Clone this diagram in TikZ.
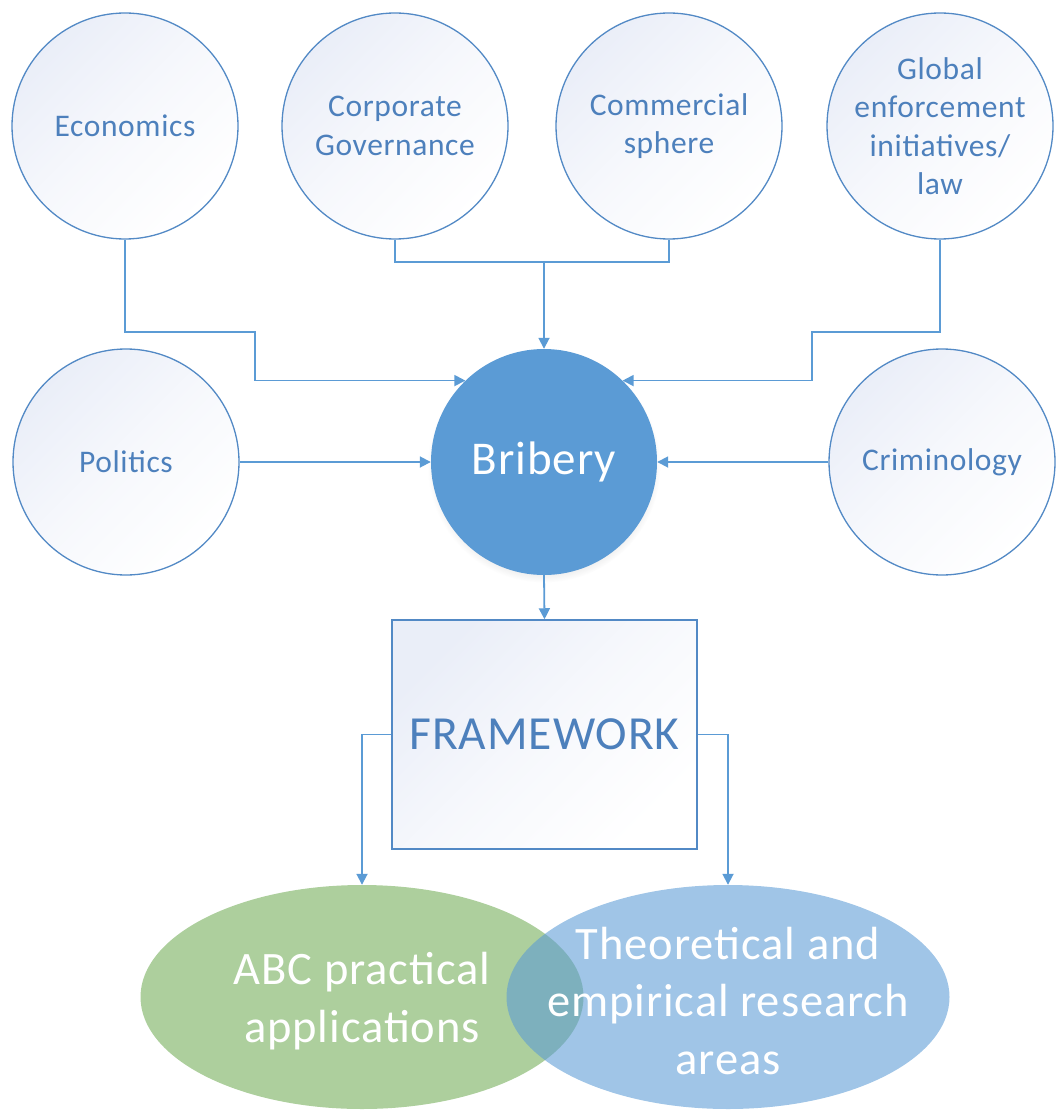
\documentclass[tikz,border=0pt]{standalone}
\usepackage{fontspec}
\setmainfont{Carlito}
\newfontfamily\spaced[LetterSpace=2]{Carlito}
\usetikzlibrary{arrows.meta,shapes.geometric,shadows}
\definecolor{linkblue}{RGB}{91,155,213}
\definecolor{rimblue}{RGB}{82,137,197}
\definecolor{labelblue}{RGB}{77,128,188}
\definecolor{tintblue}{RGB}{234,238,248}
\definecolor{corefill}{RGB}{91,155,213}
\definecolor{leafgreen}{RGB}{173,207,157}
\tikzset{
  soft/.style={top color=tintblue, bottom color=white, middle color=white!60!tintblue, shading angle=45},
  topic/.style={circle, minimum size=226pt, inner sep=0pt, draw=rimblue, line width=1.3pt, soft,
    text=labelblue, align=center, font=\spaced\fontsize{31.5}{38.5}\selectfont},
  core/.style={circle, minimum size=226pt, inner sep=0pt, fill=corefill, draw=none,
    text=white, font=\spaced\fontsize{47}{55}\selectfont,
    circular drop shadow={shadow xshift=0pt, shadow yshift=-4pt, shadow scale=1.03, opacity=0.25}},
  panel/.style={rectangle, minimum width=305pt, minimum height=229pt, inner sep=0pt,
    draw=rimblue, line width=1.5pt, soft,
    text=labelblue, font=\spaced\fontsize{47.5}{56}\selectfont},
  outcome/.style={ellipse, minimum width=443pt, minimum height=224pt, inner sep=0pt,
    draw=none, text=white, align=center, font=\spaced\fontsize{46.5}{57.5}\selectfont},
  wire/.style={draw=linkblue, line width=1.8pt},
  link/.style={wire, -{Triangle[length=11pt,width=11pt]}},
}
\begin{document}
\begin{tikzpicture}[x=1pt, y=-1pt]
\useasboundingbox (0,0) rectangle (1055,1110);

% outer topics
\node[topic] (eco)  at (125,126) {Economics};
\node[topic] (corp) at (395,126) {Corporate\\Governance};
\node[topic] (com)  at (669,126) {Commercial\\sphere};
\node[topic] (glob) at (940,126) {Global\\enforcement\\initiatives/\\law};
\node[topic] (pol)  at (126,462) {Politics};
\node[topic] (crim) at (942,462) {Criminology};

% central topic
\node[core] (brib) at (544,462) {Bribery};

% framework box
\node[panel] (fw) at (544.5,734.5) {FRAMEWORK};

% outcome areas
\node[outcome, fill=leafgreen] (abc) at (362,997) {};
\node[outcome, fill=corefill, fill opacity=0.58, text opacity=1] (theo) at (728,997) {};
\node[outcome] (abct) at (362,1001) {ABC practical\\applications};
\node[outcome] (theot) at (728,1001) {Theoretical and\\empirical research\\areas};

% connectors into bribery
\coordinate (join) at (544,262);
\draw[link] (eco.south) |- (255,332) |- (brib.134);
\draw[wire] (corp.south) |- (join) -| (com.south);
\draw[link] (join) -- (brib.north);
\draw[link] (glob.south) |- (812,332) |- (brib.46);
\draw[link] (pol.east) -- (brib.west);
\draw[link] (crim.west) -- (brib.east);

% connectors out of bribery
\draw[link] (brib.south) -- (fw.north);
\draw[link] (fw.west) -| (abc.north);
\draw[link] (fw.east) -| (theo.north);
\end{tikzpicture}
\end{document}
